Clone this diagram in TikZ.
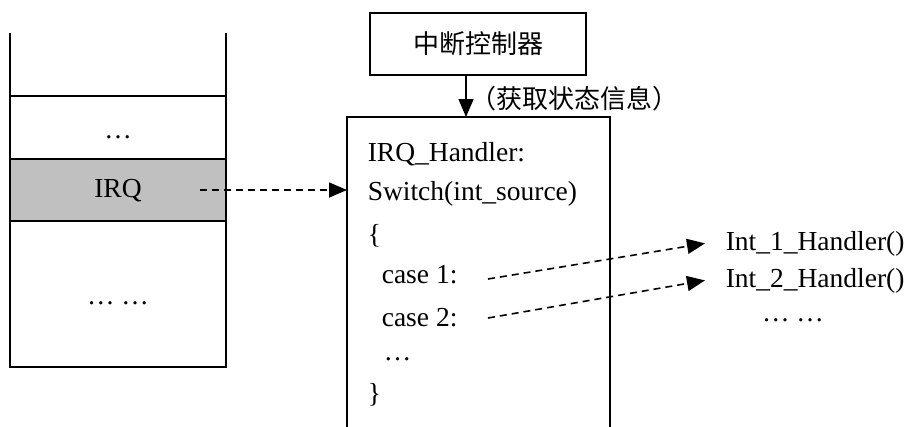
\documentclass[tikz,border=0pt]{standalone}
\usepackage{fontspec}
\setmainfont{Liberation Serif}
\newfontfamily\cjk{Noto Sans CJK SC}
\usetikzlibrary{arrows.meta}
\definecolor{rowgray}{RGB}{192,192,192}

\begin{document}
\begin{tikzpicture}[x=1pt, y=-1pt, line width=1.6pt,
  txt/.style={font=\fontsize{27.5}{32}\selectfont, inner sep=0pt},
  zh/.style={font=\cjk\fontsize{26}{30}\selectfont, inner sep=0pt},
  tip/.style={-{Triangle[length=18pt,width=15pt]}},
  dasharrow/.style={tip, line width=1.6pt, dash pattern=on 7pt off 5pt},
]
\useasboundingbox (0,0) rectangle (908,426);

% stack frame with the highlighted IRQ slot
\fill[rowgray] (10,159) rectangle (226,221);
\draw (10,33) -- (10,367) -- (226,367) -- (226,33);
\draw (10,96) -- (226,96);
\draw (10,159) -- (226,159);
\draw (10,221) -- (226,221);
\node[txt] (sdots) at (118,137) {…};
\node[txt] (irq) at (118,191) {IRQ};
\node[txt] (sdots2) at (118,303) {… …};

% interrupt controller
\node[draw, zh, minimum width=216pt, minimum height=62pt] (ctrl) at (478,44) {中断控制器};

% handler box (open at the bottom)
\draw (347,428) -- (347,117) -- (610,117) -- (610,428);
\coordinate (htop) at (466,117);
\coordinate (hin) at (347,190);
\draw[tip] (ctrl.south -| htop) -- (htop);
\node[zh, anchor=west] (info) at (470,99) {（获取状态信息）};

% handler code
\node[txt, anchor=base west] (l1) at (367,161) {IRQ\_Handler:};
\node[txt, anchor=base west] (l2) at (367,200) {Switch(int\_source)};
\node[txt, anchor=base west] (l3) at (367,243) {\{};
\node[txt, anchor=base west] (c1) at (381,283) {case 1:};
\node[txt, anchor=base west] (c2) at (381,326) {case 2:};
\node[txt, anchor=base west] (l6) at (383,360) {…};
\node[txt, anchor=base west] (l7) at (367,402) {\}};

% targets
\node[txt, anchor=base west] (int1) at (725,250) {Int\_1\_Handler()};
\node[txt, anchor=base west] (int2) at (725,287) {Int\_2\_Handler()};
\node[txt] (idots) at (793,320) {… …};

% dispatch arrows
\coordinate (irqsrc) at (200,190);
\draw[dasharrow] (irqsrc) -- (hin);
\coordinate (c1src) at (488,279);
\coordinate (c2src) at (488,318);
\draw[dasharrow] (c1src) -- ([xshift=-20pt]int1.west);
\draw[dasharrow] (c2src) -- ([xshift=-20pt]int2.west);
\end{tikzpicture}
\end{document}
